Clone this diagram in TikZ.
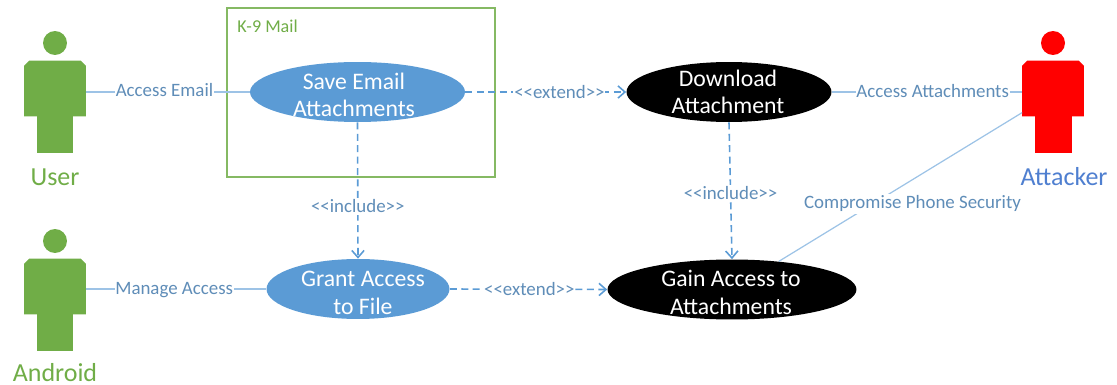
\documentclass[tikz,border=0pt]{standalone}
\usepackage{fontspec}
\setmainfont{Carlito}
\usetikzlibrary{shapes.geometric,arrows.meta}

\definecolor{usecase}{HTML}{5B9BD5}
\definecolor{actorgreen}{HTML}{70AD47}
\definecolor{assocline}{HTML}{9DC3E6}
\definecolor{labeltext}{HTML}{5F8DB8}
\definecolor{attackerblue}{HTML}{4F7FD0}

\tikzset{
    usecasebox/.style={ellipse, inner sep=0pt, minimum height=1.2cm},
    usecasetext/.style={inner sep=0pt, align=center, text=white, font=\fontsize{13.5}{15.6}\selectfont},
    assoc/.style={assocline, line width=0.7pt},
    dep/.style={usecase, line width=0.9pt, dashed, dash pattern=on 4pt off 2.5pt, -{Straight Barb[length=4pt,width=7pt]}},
    edgelabel/.style={fill=white, inner xsep=0.5pt, inner ysep=1pt, text=labeltext, font=\fontsize{10.75}{12}\selectfont}
}

\begin{document}
\begin{tikzpicture}[x=0.02cm, y=-0.02cm]
    \useasboundingbox (0,0) rectangle (1117,385);

    % System boundary
    \node[draw=actorgreen!85, line width=0.7pt, minimum width=5.36cm, minimum height=3.38cm, inner sep=0pt] (k9box) at (361,92.5) {};
    \node[anchor=west, inner sep=0pt, text=actorgreen, font=\fontsize{10.3}{12}\selectfont] (k9label) at (237,26) {K-9 Mail};

    % Draw actors
    \foreach \x/\y/\name/\col/\labelx/\labely/\labelcol/\txt in {55/43/user/actorgreen/55/177/actorgreen/User, 55/241/android/actorgreen/55/373/actorgreen/Android, 1053/43/attacker/red/1064/177/attackerblue/Attacker} {
        \node[circle, fill=\col, minimum size=0.48cm, inner sep=0pt] (\name head) at (\x,\y) {};
        \node[minimum width=1.22cm, minimum height=1.1cm, inner sep=0pt] (\name body) at (\x,\y+45.5) {};
        \fill[\col] (\name body.south west) -- ([yshift=-0.1cm]\name body.north west) -- ([xshift=0.1cm]\name body.north west) -- ([xshift=-0.1cm]\name body.north east) -- ([yshift=-0.1cm]\name body.north east) -- (\name body.south east) -- cycle;
        \node[fill=\col, minimum width=0.74cm, minimum height=0.76cm, inner sep=0pt] (\name legs) at (\x,\y+91) {};
        \node[text=\labelcol, inner sep=0pt, font=\fontsize{14.8}{16}\selectfont] (\name label) at (\labelx,\labely) {\txt};
    }

    % Draw use cases
    \node[usecasebox, fill=usecase, minimum width=4.3cm] (save) at (357.5,92) {};
    \node[usecasebox, fill=black, minimum width=4.1cm] (download) at (729,92) {};
    \node[usecasebox, fill=usecase, minimum width=3.66cm] (grant) at (358,289) {};
    \node[usecasebox, fill=black, minimum width=4.98cm] (gain) at (732,289.5) {};

    % Use case texts
    \node[usecasetext] (savetext) at (354,95) {Save Email\\Attachments};
    \node[usecasetext] (downloadtext) at (728,92) {Download\\Attachment};
    \node[usecasetext] (granttext) at (363,293) {Grant Access\\to File};
    \node[usecasetext] (gaintext) at (731,292.5) {Gain Access to\\Attachments};

    % Associations
    \draw[assoc] (userbody.east |- save.west) -- node[edgelabel, pos=0.48, yshift=0.03cm] (accessemail) {Access Email} (save.west);
    \draw[assoc] (androidbody.east |- grant.west) -- node[edgelabel, pos=0.49, yshift=-0.03cm] (manageaccess) {Manage Access} (grant.west);
    \draw[assoc] (download.east) -- node[edgelabel, pos=0.53, yshift=0.02cm] (accessattach) {Access Attachments} (download.east -| attackerbody.west);
    \draw[assoc] (attackerbody.218) -- node[edgelabel, pos=0.586, xshift=0.66cm, yshift=-0.08cm] (compromise) {Compromise Phone Security} (gain.31);

    % Dependencies
    \draw[dep] (save.east) -- node[edgelabel, pos=0.585] (extendtop) {<{}<extend>{}>} (download.west);
    \draw[dep] (grant.east) -- node[edgelabel, pos=0.505] (extendbottom) {<{}<extend>{}>} (gain.west);
    \draw[dep] (save.south) -- node[edgelabel, pos=0.615] (includeleft) {<{}<include>{}>} (grant.north);
    \draw[dep] (download.south) -- node[edgelabel, pos=0.52] (includeright) {<{}<include>{}>} (gain.north);
\end{tikzpicture}
\end{document}
